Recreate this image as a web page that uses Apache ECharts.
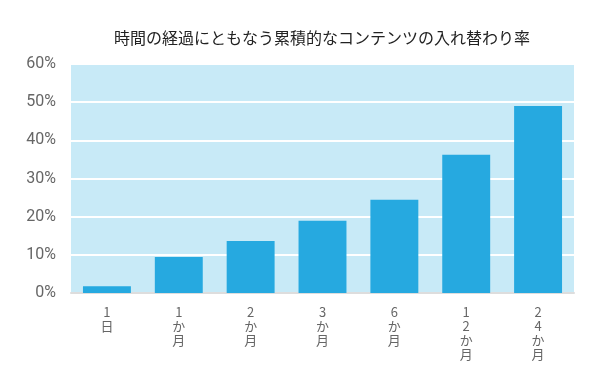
<!DOCTYPE html>
<html><head><meta charset="utf-8">
<script src="https://cdn.jsdelivr.net/npm/echarts@6/dist/echarts.min.js"></script>
<style>html,body{margin:0;padding:0;background:#fff}#c{width:600px;height:381px}</style>
</head><body><div id="c"></div>
<script>
const categories = ['1日', '1か月', '2か月', '3か月', '6か月', '12か月', '24か月'];
const values = [1.8, 9.4, 13.6, 18.9, 24.4, 36.2, 49.0];
const yTicks = [0, 10, 20, 30, 40, 50, 60];
const title = '時間の経過にともなう累積的なコンテンツの入れ替わり率';

const chart = echarts.init(document.getElementById('c'));
chart.setOption({
  animation: false,
  backgroundColor: '#fff',
  title: {
    text: title, left: 109, top: 25,
    textStyle: {fontFamily: 'Noto Sans CJK JP', fontSize: 16, fontWeight: 'normal', color: '#222'}
  },
  grid: {left: 71, right: 26, top: 64, bottom: 88, show: true, backgroundColor: '#c8eaf7', borderWidth: 0},
  xAxis: {
    type: 'category', data: categories,
    axisLine: {show: true, lineStyle: {color: '#dddddd', width: 2}},
    axisTick: {show: false},
    axisLabel: {
      margin: 12, color: '#666', fontSize: 13, lineHeight: 14,
      fontFamily: 'Noto Sans CJK JP',
      formatter: v => v.split('').join('\n')
    }
  },
  yAxis: {
    type: 'value', min: yTicks[0], max: yTicks[yTicks.length - 1], interval: 10,
    axisLine: {show: false}, axisTick: {show: false},
    axisLabel: {formatter: '{value}%', color: '#666', fontSize: 16, margin: 15, fontFamily: 'Roboto'},
    splitLine: {show: true, lineStyle: {color: '#ffffff', width: 2}}
  },
  series: [{
    type: 'bar', data: values, barWidth: '66.7%',
    itemStyle: {color: '#26a9e0'}
  }]
});
</script></body></html>
